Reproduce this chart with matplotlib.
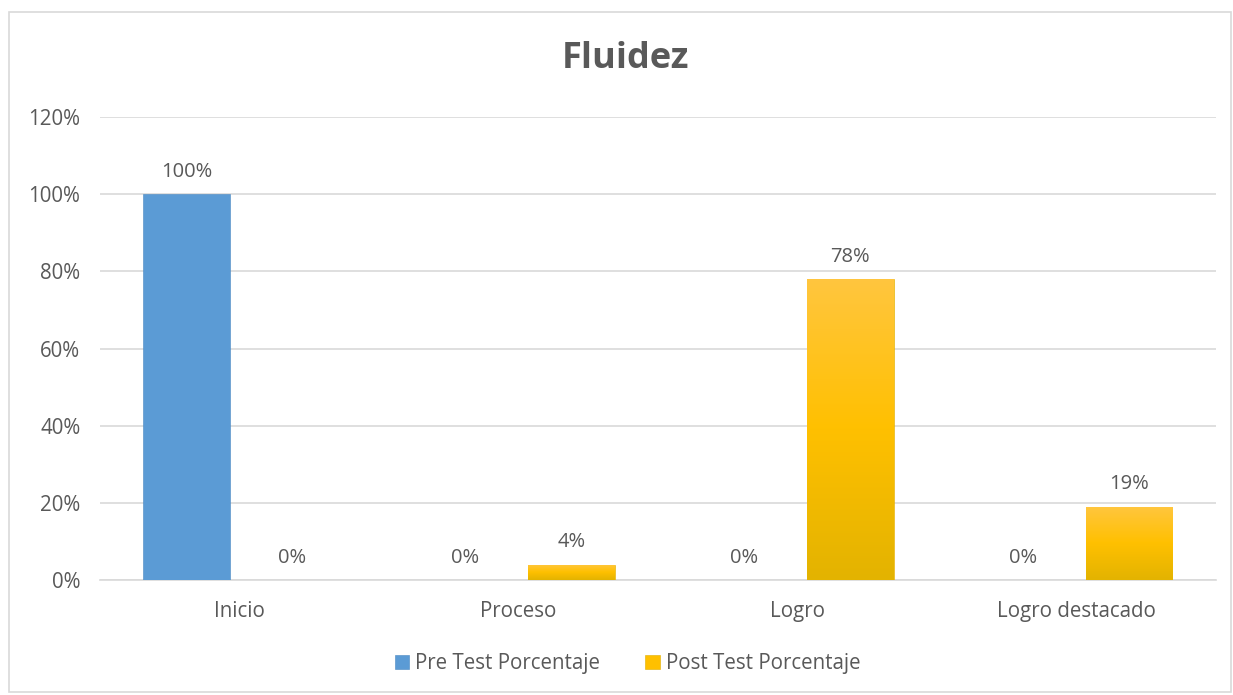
import numpy as np
import matplotlib
matplotlib.use("Agg")
import matplotlib.pyplot as plt
from matplotlib.colors import LinearSegmentedColormap
from matplotlib.patches import Rectangle

categorias = ['Inicio', 'Proceso', 'Logro', 'Logro destacado']
pre_test = [100, 0, 0, 0]
post_test = [0, 4, 78, 19]
etiquetas_y = ['0%', '20%', '40%', '60%', '80%', '100%', '120%']

plt.rcParams['font.family'] = ['Open Sans', 'DejaVu Sans']
gris = '#595959'
azul = '#5B9BD5'

fig = plt.figure(figsize=(12.33, 6.95), dpi=100)
ax = fig.add_axes([0.081, 0.165, 0.905, 0.667])

# borde del grafico
fig.patches.append(Rectangle((0.007, 0.005), 0.991, 0.978, transform=fig.transFigure,
                             fill=False, edgecolor='#D9D9D9', linewidth=1.2))

x = np.arange(len(categorias))
ancho = 0.31
desp = 0.19

barras_pre = ax.bar(x - desp, [v / 100 for v in pre_test], ancho, color=azul,
                    edgecolor='#4A88C2', linewidth=0.4, label='Pre Test Porcentaje', zorder=3)
barras_post = ax.bar(x + desp, [v / 100 for v in post_test], ancho, color='#FFC000',
                     edgecolor='#E0AE00', linewidth=0.4, label='Post Test Porcentaje', zorder=3)

# degradado de las barras amarillas
cmap = LinearSegmentedColormap.from_list('oro', ['#E3B300', '#FFC000', '#FFC63F'])
grad = np.linspace(0, 1, 256).reshape(-1, 1)
for b in barras_post:
    h = b.get_height()
    if h <= 0:
        continue
    im = ax.imshow(grad, cmap=cmap, origin='lower', aspect='auto',
                   extent=[b.get_x(), b.get_x() + b.get_width(), 0, h], zorder=3.5)
    im.set_clip_path(b)

ax.set_xlim(-0.5, len(categorias) - 0.5)
ax.set_ylim(0, 1.2)
ax.set_yticks(np.arange(0, 1.21, 0.2))
ax.set_yticklabels(etiquetas_y)
ax.set_xticks(x)
ax.set_xticklabels(categorias)
ax.tick_params(axis='both', length=0, labelsize=14.8, colors=gris)
ax.tick_params(axis='x', pad=15)
ax.tick_params(axis='y', pad=14)
ax.grid(axis='y', color='#D9D9D9', linewidth=1.2, zorder=0)
for lado in ['top', 'right', 'left']:
    ax.spines[lado].set_visible(False)
ax.spines['bottom'].set_color('#D9D9D9')
ax.spines['bottom'].set_linewidth(1.2)

for barras, vals in [(barras_pre, pre_test), (barras_post, post_test)]:
    for b, v in zip(barras, vals):
        ax.annotate(f'{v}%', (b.get_x() + b.get_width() / 2, b.get_height()),
                    xytext=(0, 9), textcoords='offset points', ha='center', va='bottom',
                    fontsize=14.5, color=gris)

fig.text(0.507, 0.915, 'Fluidez', ha='center', va='center', fontsize=26,
         fontweight='bold', color=gris)

fig.legend(handles=[barras_pre, barras_post], loc='center', bbox_to_anchor=(0.509, 0.045),
           ncol=2, frameon=False, fontsize=14.8, labelcolor=gris, handlelength=0.7,
           handleheight=0.7, handletextpad=0.3, columnspacing=2.2)

fig.savefig('out.png', dpi=100)
